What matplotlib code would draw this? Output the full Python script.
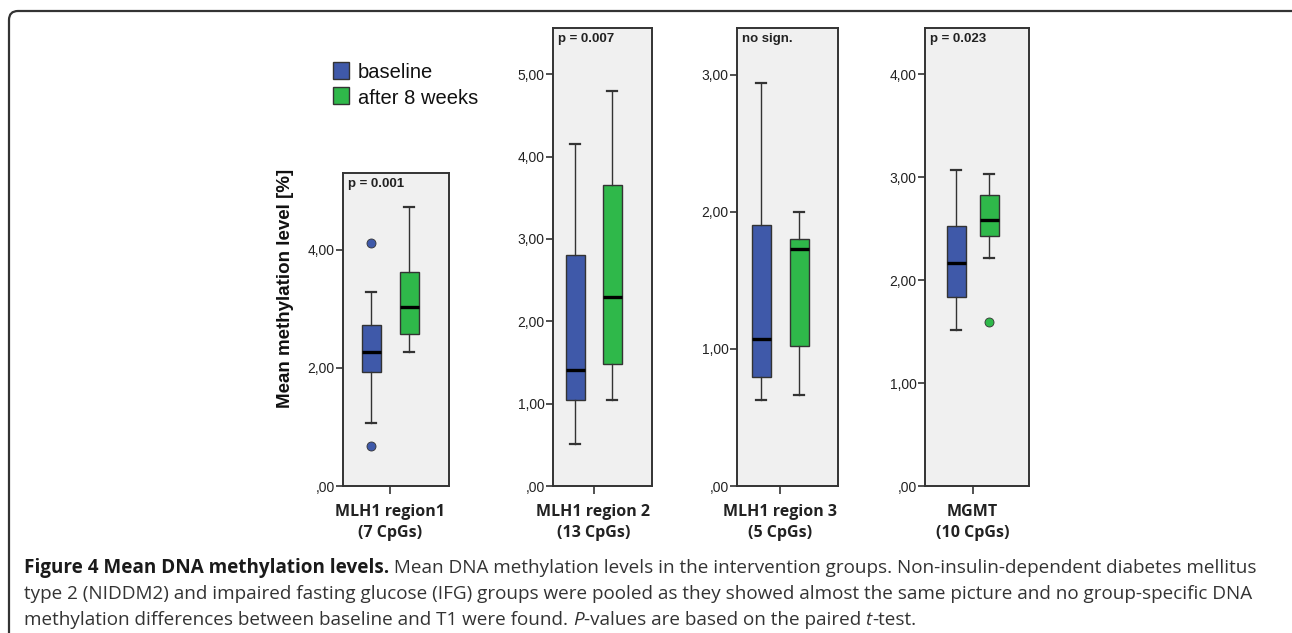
import numpy as np
import matplotlib
matplotlib.use("Agg")
import matplotlib.pyplot as plt
from matplotlib.patches import FancyBboxPatch, Rectangle
from matplotlib.transforms import IdentityTransform

# ---- data (box stats: whislo, q1, med, q3, whishi) ----
panel_names = ["MLH1 region1\n(7 CpGs)", "MLH1 region 2\n(13 CpGs)",
               "MLH1 region 3\n(5 CpGs)", "MGMT\n(10 CpGs)"]
p_labels = ["p = 0.001", "p = 0.007", "no sign.", "p = 0.023"]

baseline_stats = [
    [1.07, 1.93, 2.27, 2.72, 3.28],
    [0.51, 1.04, 1.41, 2.80, 4.15],
    [0.625, 0.795, 1.07, 1.90, 2.94],
    [1.52, 1.84, 2.17, 2.525, 3.07],
]
after_stats = [
    [2.27, 2.58, 3.03, 3.62, 4.72],
    [1.04, 1.48, 2.30, 3.65, 4.80],
    [0.66, 1.02, 1.73, 1.80, 2.00],
    [2.22, 2.43, 2.58, 2.83, 3.03],
]
baseline_outliers = [[4.11, 0.68], [], [], []]
after_outliers = [[], [], [], [1.59]]

y_max = [5.3, 5.56, 3.34, 4.45]
y_ticks = [[0, 2, 4], [0, 1, 2, 3, 4, 5], [0, 1, 2, 3], [0, 1, 2, 3, 4]]
groups = ["baseline", "after 8 weeks"]

# ---- style ----
BLUE = "#3f59a9"
GREEN = "#2fb84a"
EDGE = "#333333"
W, H = 1292, 633

# pixel layout: (left, right, top, bottom, tick x, spacing between boxes)
layout = [
    (343, 449, 173, 486, 390, 38),
    (553, 652, 28, 486, 593.5, 37),
    (737, 838, 28, 486, 780, 38),
    (925, 1029, 28, 486, 972.5, 33),
]

fig = plt.figure(figsize=(W / 100, H / 100), dpi=100)


def tick_label(v):
    return ",00" if v == 0 else f"{v},00"


for i, (l, r, t, b, tx, sp) in enumerate(layout):
    ax = fig.add_axes([l / W, 1 - b / H, (r - l) / W, (b - t) / H])
    ax.set_facecolor("#f0f0f0")
    stats = []
    for st, fl in ((baseline_stats[i], baseline_outliers[i]),
                   (after_stats[i], after_outliers[i])):
        stats.append(dict(whislo=st[0], q1=st[1], med=st[2], q3=st[3],
                          whishi=st[4], fliers=fl))
    bp = ax.bxp(stats, positions=[-0.5, 0.5], widths=19 / sp,
                patch_artist=True, showfliers=True,
                boxprops=dict(edgecolor=EDGE, linewidth=1.0),
                whiskerprops=dict(color=EDGE, linewidth=1.0),
                capprops=dict(color=EDGE, linewidth=1.6),
                medianprops=dict(color="black", linewidth=2.4),
                capwidths=10 / sp)
    for patch, col in zip(bp["boxes"], [BLUE, GREEN]):
        patch.set_facecolor(col)
    for fl, col in zip(bp["fliers"], [BLUE, GREEN]):
        fl.set(marker="o", markersize=6.5, markerfacecolor=col,
               markeredgecolor=EDGE, markeredgewidth=0.6)

    ax.set_xlim((l - tx) / sp, (r - tx) / sp)
    ax.set_ylim(0, y_max[i])
    ax.set_yticks(y_ticks[i])
    ax.set_yticklabels([tick_label(v) for v in y_ticks[i]],
                       fontsize=10, family="Liberation Sans", color="#222")
    ax.set_xticks([0])
    ax.set_xticklabels([panel_names[i]], fontsize=11.5, family="Open Sans",
                       fontweight="bold", color="#222", linespacing=1.4)
    ax.tick_params(axis="y", direction="out", length=5, width=1.2,
                   color=EDGE, pad=1)
    ax.tick_params(axis="x", direction="out", length=6, width=1.2,
                   color=EDGE, pad=7)
    for s in ax.spines.values():
        s.set_color(EDGE)
        s.set_linewidth(1.4)
    ax.text(5 / (r - l), 1 - 11 / (b - t), p_labels[i], transform=ax.transAxes,
            ha="left", va="center", fontsize=9.5, fontweight="bold",
            family="Liberation Sans", color="#222")

# y axis title
fig.text(285 / W, 1 - 288 / H, "Mean methylation level [%]", rotation=90,
         ha="center", va="center", fontsize=13.5, fontweight="bold",
         family="Liberation Sans", color="#111")

# legend
for j, (g, col) in enumerate(zip(groups, [BLUE, GREEN])):
    y0 = 62 + j * 25
    fig.patches.append(Rectangle((333 / W, 1 - (y0 + 17) / H), 16 / W, 17 / H,
                                 transform=fig.transFigure, facecolor=col,
                                 edgecolor=EDGE, linewidth=1.0))
    fig.text(358 / W, 1 - (y0 + 11) / H, g, ha="left", va="center",
             fontsize=14.5, family="Liberation Sans", color="#111")

# outer frame with rounded corners
frame = FancyBboxPatch((9, -30), 1300, 30 + H - 11,
                       boxstyle="round,pad=0,rounding_size=9",
                       transform=IdentityTransform(), facecolor="none",
                       edgecolor="#333", linewidth=1.6)
fig.patches.append(frame)

# caption
caption = [
    [("Figure 4 Mean DNA methylation levels.", "bold", "normal"),
     (" Mean DNA methylation levels in the intervention groups. "
      "Non-insulin-dependent diabetes mellitus", "normal", "normal")],
    [("type 2 (NIDDM2) and impaired fasting glucose (IFG) groups were pooled "
      "as they showed almost the same picture and no group-specific DNA",
      "normal", "normal")],
    [("methylation differences between baseline and T1 were found. ",
      "normal", "normal"),
     ("P", "normal", "italic"),
     ("-values are based on the paired ", "normal", "normal"),
     ("t", "normal", "italic"),
     ("-test.", "normal", "normal")],
]
line_y = [568, 594, 620]
renderer = fig.canvas.get_renderer()

# fit font size to width of line 2 (24 px -> 1243 px)
probe = fig.text(0, 0, caption[1][0][0], fontsize=12, family="Open Sans")
wpx = probe.get_window_extent(renderer).width
probe.remove()
cap_size = 12 * (1243 - 24) / wpx

for ln, yy in zip(caption, line_y):
    x = 24
    for txt, wt, st in ln:
        t = fig.text(x / W, 1 - yy / H, txt, ha="left", va="center",
                     fontsize=cap_size, family="Open Sans", fontweight=wt,
                     fontstyle=st, color="#1a1a1a" if wt == "bold" else "#333")
        x += t.get_window_extent(renderer).width

fig.savefig("out.png", dpi=100)
